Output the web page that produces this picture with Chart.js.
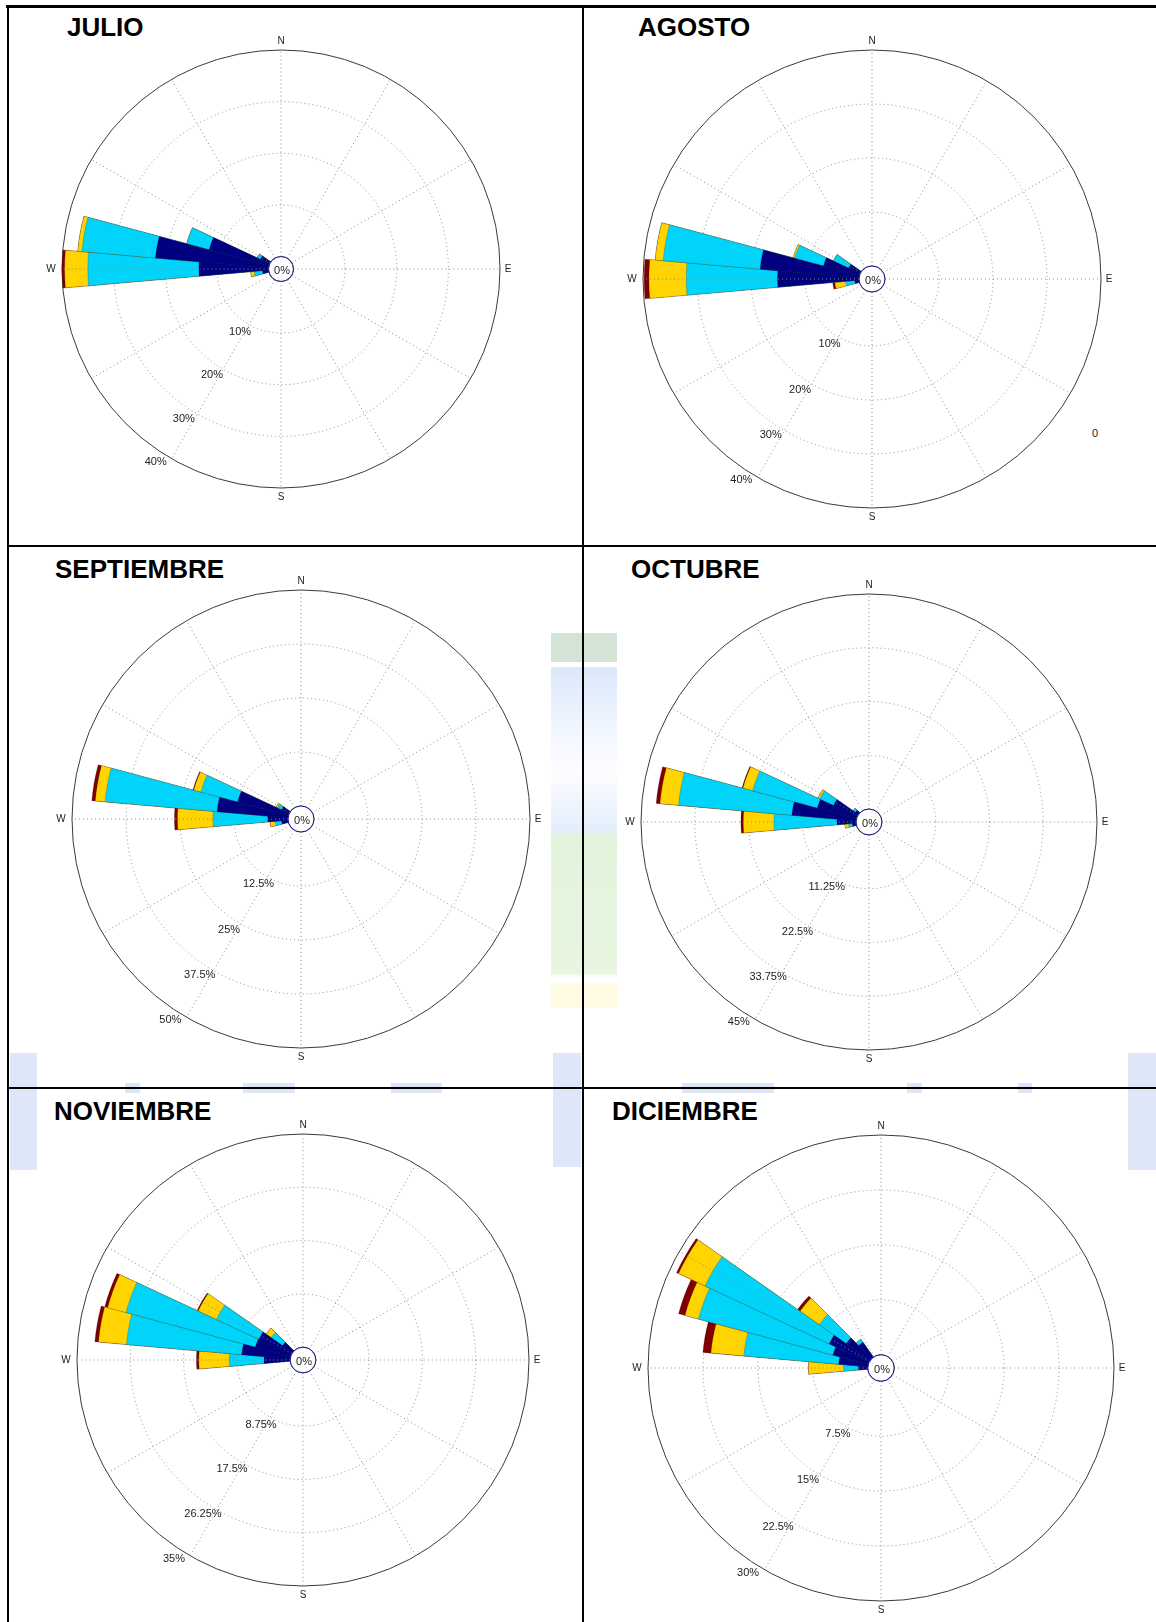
<!DOCTYPE html>
<html>
<head>
<meta charset="utf-8">
<script src="https://cdn.jsdelivr.net/npm/chart.js@4.4.1/dist/chart.umd.min.js"></script>
<style>
body { margin: 0; width: 1156px; height: 1622px; background: #fff; position: relative; overflow: hidden; font-family: "Liberation Sans", Arial, sans-serif; }
.line { position: absolute; background: #000; }
.title { position: absolute; font-weight: bold; font-size: 26px; line-height: 26px; color: #000; }
.wm { position: absolute; background: #dde7f7; }
canvas { position: absolute; }
.note { position: absolute; font-size: 11px; color: #222; }
</style>
</head>
<body>

<!-- faint background watermark -->
<div class="wm" style="left:551px;top:633px;width:66px;height:375px;background:linear-gradient(to bottom,#d3e4d6 0,#d3e4d6 29px,#fff 29px,#fff 34px,#dbe8fb 34px,#f3f7ff 100px,#fdfdff 140px,#e4eefc 195px,#e2f3dc 205px,#e8f6e0 340px,#fff 344px,#fff 350px,#fffbe3 350px);"></div>
<div class="wm" style="left:10px;top:1053px;width:27px;height:117px;"></div>
<div class="wm" style="left:125px;top:1083px;width:15px;height:10px;"></div>
<div class="wm" style="left:243px;top:1083px;width:52px;height:10px;"></div>
<div class="wm" style="left:391px;top:1083px;width:51px;height:10px;"></div>
<div class="wm" style="left:553px;top:1053px;width:28px;height:114px;"></div>
<div class="wm" style="left:682px;top:1083px;width:92px;height:10px;"></div>
<div class="wm" style="left:907px;top:1083px;width:15px;height:10px;"></div>
<div class="wm" style="left:1018px;top:1083px;width:14px;height:10px;"></div>
<div class="wm" style="left:1128px;top:1053px;width:28px;height:117px;"></div>

<!-- panel frame -->
<div class="line" style="left:6px;top:5px;width:1150px;height:3px;"></div>
<div class="line" style="left:7px;top:5px;width:2px;height:1617px;"></div>
<div class="line" style="left:582px;top:5px;width:2px;height:1617px;"></div>
<div class="line" style="left:7px;top:545px;width:1149px;height:2px;"></div>
<div class="line" style="left:7px;top:1087px;width:1149px;height:2px;"></div>

<div class="title" style="left:67px;top:14px;">JULIO</div>
<div class="title" style="left:638px;top:14px;">AGOSTO</div>
<div class="title" style="left:55px;top:556px;">SEPTIEMBRE</div>
<div class="title" style="left:631px;top:556px;">OCTUBRE</div>
<div class="title" style="left:54px;top:1098px;">NOVIEMBRE</div>
<div class="title" style="left:612px;top:1098px;">DICIEMBRE</div>
<div class="note" style="left:1092px;top:427px;">0</div>

<canvas id="julio"></canvas>
<canvas id="agosto"></canvas>
<canvas id="septiembre"></canvas>
<canvas id="octubre"></canvas>
<canvas id="noviembre"></canvas>
<canvas id="diciembre"></canvas>

<script>
// 36 direction sectors, 10 degrees each, clockwise from north
const directions = [0, 10, 20, 30, 40, 50, 60, 70, 80, 90, 100, 110, 120, 130, 140, 150, 160, 170,
    180, 190, 200, 210, 220, 230, 240, 250, 260, 270, 280, 290, 300, 310, 320, 330, 340, 350];
// speed classes, innermost first
const classColors = ["#000080", "#00d4fa", "#ffd400", "#800000"];

// % frequency per class, only for the sectors that have data
const julioDirs = [260, 270, 280, 290, 300];
const julioC1 = [1.2, 13.5, 22.0, 12.0, 2.0];
const julioC2 = [1.6, 21.5, 14.3, 4.5, 0.7];
const julioC3 = [0.7, 4.5, 0.8, 0, 0];
const julioC4 = [0, 0.5, 0, 0, 0];
const julioRings = [10, 20, 30, 40];

const agostoDirs = [260, 270, 280, 290, 300];
const agostoC1 = [0.8, 15.1, 18.4, 6.9, 2.4];
const agostoC2 = [1.7, 16.9, 18.0, 5.5, 3.1];
const agostoC3 = [2.0, 6.9, 1.5, 0.3, 0];
const agostoC4 = [0.4, 0.9, 0, 0, 0];
const agostoRings = [10, 20, 30, 40];

const septiembreDirs = [260, 270, 280, 290, 300];
const septiembreC1 = [1.5, 4.7, 16.5, 12.2, 2.0];
const septiembreC2 = [1.5, 12.7, 26.0, 8.8, 1.0];
const septiembreC3 = [1.2, 8.2, 2.3, 1.7, 0.4];
const septiembreC4 = [0, 0.7, 0.8, 0.2, 0];
const septiembreRings = [12.5, 25, 37.5, 50];

const octubreDirs = [260, 270, 280, 290, 300, 310];
const octubreC1 = [0.8, 4.0, 13.5, 8.5, 5.5, 0.8];
const octubreC2 = [0.8, 13.2, 23.8, 14.0, 3.2, 0.6];
const octubreC3 = [0.8, 6.4, 3.9, 2.1, 0.4, 0];
const octubreC4 = [0, 0.5, 0.8, 0.2, 0, 0];
const octubreRings = [11.25, 22.5, 33.75, 45];

const noviembreDirs = [270, 280, 290, 300, 310];
const noviembreC1 = [4.3, 8.0, 6.0, 5.9, 2.0];
const noviembreC2 = [5.7, 19.0, 22.0, 7.7, 2.3];
const noviembreC3 = [5.0, 4.6, 3.1, 3.3, 1.0];
const noviembreC4 = [0.4, 0.6, 0.5, 0.2, 0];
const noviembreRings = [8.75, 17.5, 26.25, 35];

const diciembreDirs = [270, 280, 290, 300, 310, 320];
const diciembreC1 = [1.3, 4.0, 5.0, 6.0, 4.0, 2.5];
const diciembreC2 = [2.0, 13.0, 19.0, 18.7, 4.5, 0.5];
const diciembreC3 = [4.8, 4.5, 1.9, 4.0, 3.2, 0];
const diciembreC4 = [0, 1.1, 0.9, 0.3, 0.4, 0];
const diciembreRings = [7.5, 15, 22.5, 30];

// where each rose sits on the page
const panels = [
    { id: "julio", cx: 281, cy: 269, R: 219, dirs: julioDirs, classes: [julioC1, julioC2, julioC3, julioC4], rings: julioRings },
    { id: "agosto", cx: 872, cy: 279, R: 229, dirs: agostoDirs, classes: [agostoC1, agostoC2, agostoC3, agostoC4], rings: agostoRings },
    { id: "septiembre", cx: 301, cy: 819, R: 229, dirs: septiembreDirs, classes: [septiembreC1, septiembreC2, septiembreC3, septiembreC4], rings: septiembreRings },
    { id: "octubre", cx: 869, cy: 822, R: 228, dirs: octubreDirs, classes: [octubreC1, octubreC2, octubreC3, octubreC4], rings: octubreRings },
    { id: "noviembre", cx: 303, cy: 1360, R: 226, dirs: noviembreDirs, classes: [noviembreC1, noviembreC2, noviembreC3, noviembreC4], rings: noviembreRings },
    { id: "diciembre", cx: 881, cy: 1368, R: 233, dirs: diciembreDirs, classes: [diciembreC1, diciembreC2, diciembreC3, diciembreC4], rings: diciembreRings }
];

const PAD = 40;

function fullSeries(dirs, vals) {
    return directions.map(d => {
        const k = dirs.indexOf(d);
        return k >= 0 ? vals[k] : 0;
    });
}

// spokes, centre circle and labels, all placed with the r scale
const rosePlugin = {
    id: "rose",
    afterDraw(chart, args, opts) {
        const s = chart.scales.r;
        const ctx = chart.ctx;
        const cx = s.xCenter, cy = s.yCenter;
        const R = s.getDistanceFromCenterForValue(s.max);
        const r0 = s.getDistanceFromCenterForValue(0);
        ctx.save();
        ctx.strokeStyle = "#8a8a8a";
        ctx.lineWidth = 1;
        ctx.setLineDash([1, 3]);
        for (let b = 0; b < 360; b += 30) {
            const a = b * Math.PI / 180;
            ctx.beginPath();
            ctx.moveTo(cx + r0 * Math.sin(a), cy - r0 * Math.cos(a));
            ctx.lineTo(cx + R * Math.sin(a), cy - R * Math.cos(a));
            ctx.stroke();
        }
        ctx.setLineDash([]);
        ctx.beginPath();
        ctx.arc(cx, cy, r0, 0, 2 * Math.PI);
        ctx.fillStyle = "#fff";
        ctx.fill();
        ctx.strokeStyle = "#1c1c8c";
        ctx.stroke();

        ctx.fillStyle = "#222";
        ctx.font = '11px "Liberation Sans", Arial, sans-serif';
        ctx.textAlign = "center";
        ctx.textBaseline = "middle";
        ctx.fillText("0%", cx + 1, cy + 2);
        const la = 213 * Math.PI / 180;
        opts.rings.forEach(v => {
            const r = s.getDistanceFromCenterForValue(v) + 11;
            ctx.fillText(v + "%", cx + r * Math.sin(la), cy - r * Math.cos(la));
        });
        ctx.font = '10px "Liberation Sans", Arial, sans-serif';
        ctx.fillText("N", cx, cy - R - 9);
        ctx.fillText("S", cx, cy + R + 9);
        ctx.fillText("E", cx + R + 8, cy);
        ctx.fillText("W", cx - R - 11, cy);
        ctx.restore();
    }
};

panels.forEach(p => {
    const canvas = document.getElementById(p.id);
    const size = 2 * p.R + 2 * PAD;
    canvas.width = size;
    canvas.height = size;
    canvas.style.left = (p.cx - p.R - PAD) + "px";
    canvas.style.top = (p.cy - p.R - PAD) + "px";

    // stacked rose: each dataset holds the running total, innermost drawn on top
    let running = directions.map(() => 0);
    const datasets = p.classes.map((vals, i) => {
        const full = fullSeries(p.dirs, vals);
        running = running.map((v, j) => v + full[j]);
        return {
            data: running.slice(),
            backgroundColor: classColors[i],
            borderColor: "rgba(0,0,0,0.35)",
            borderWidth: 0.5
        };
    });
    const max = p.rings[p.rings.length - 1];

    new Chart(canvas, {
        type: "polarArea",
        data: { labels: directions.map(d => d + "°"), datasets },
        options: {
            responsive: false,
            animation: false,
            layout: { padding: PAD },
            scales: {
                r: {
                    min: -0.06 * max,
                    max: max,
                    startAngle: -5,
                    z: 1,
                    afterBuildTicks: scale => { scale.ticks = p.rings.map(v => ({ value: v })); },
                    ticks: { display: false },
                    angleLines: { display: false },
                    pointLabels: { display: false },
                    grid: {
                        circular: true,
                        lineWidth: 1,
                        color: c => (c.tick && c.tick.value === max) ? "#3a3a3a" : "#8a8a8a"
                    },
                    border: {
                        dash: c => (c.tick && c.tick.value === max) ? [] : [1, 3]
                    }
                }
            },
            plugins: {
                legend: { display: false },
                tooltip: { enabled: false },
                rose: { rings: p.rings }
            }
        },
        plugins: [rosePlugin]
    });
});
</script>
</body>
</html>
